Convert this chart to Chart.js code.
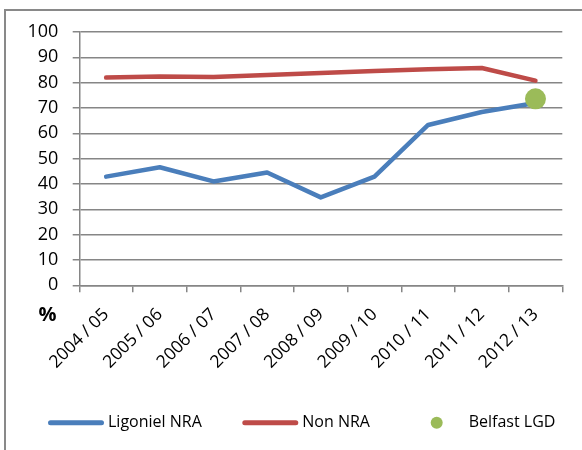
<!DOCTYPE html>
<html><head><meta charset="utf-8">
<script src="https://cdn.jsdelivr.net/npm/chart.js@4.4.1/dist/chart.umd.min.js"></script>
<style>
html,body{margin:0;padding:0;background:#fff;overflow:hidden}
#wrap{position:relative;width:582px;height:450px;overflow:hidden}
#frame{position:absolute;left:4px;top:9px;width:700px;height:600px;border-left:2px solid #898989;border-top:2px solid #898989}
canvas{position:absolute;left:0;top:0}
</style></head><body>
<div id="wrap"><div id="frame"></div><canvas id="c" width="582" height="450"></canvas></div>
<script>
const categories = ['2004 / 05','2005 / 06','2006 / 07','2007 / 08','2008 / 09','2009 / 10','2010 / 11','2011 / 12','2012 / 13'];
const ligonielNRA = [42.9, 46.6, 41.0, 44.5, 34.7, 42.9, 63.3, 68.4, 72.0];
const nonNRA = [82.0, 82.4, 82.2, 83.0, 83.8, 84.6, 85.3, 85.8, 80.8];
const belfastLGD = [null, null, null, null, null, null, null, null, 73.6];
const yTicks = [0, 10, 20, 30, 40, 50, 60, 70, 80, 90, 100];
const yUnit = '%';

const FONT = 'Open Sans';
const GRID = '#868686';

const extras = {
  id: 'extras',
  afterDraw(chart) {
    const ctx = chart.ctx;
    ctx.save();
    ctx.fillStyle = '#000';
    ctx.font = 'bold 20px "' + FONT + '"';
    ctx.textAlign = 'center';
    ctx.textBaseline = 'middle';
    ctx.fillText(yUnit, 47.5, 315);
    const y = 422.7;
    const items = [
      {ds: chart.data.datasets[1], x: 48, kind: 'line'},
      {ds: chart.data.datasets[2], x: 242.3, kind: 'line'},
      {ds: chart.data.datasets[0], x: 408.7, kind: 'dot'}
    ];
    ctx.font = '16px "' + FONT + '"';
    ctx.textAlign = 'left';
    items.forEach(it => {
      if (it.kind === 'line') {
        ctx.strokeStyle = it.ds.borderColor;
        ctx.lineWidth = 5;
        ctx.lineCap = 'round';
        ctx.beginPath();
        ctx.moveTo(it.x + 2.5, y);
        ctx.lineTo(it.x + 53.5, y);
        ctx.stroke();
      } else {
        ctx.fillStyle = it.ds.backgroundColor;
        ctx.beginPath();
        ctx.arc(it.x + 28, y, 6, 0, Math.PI * 2);
        ctx.fill();
      }
      ctx.fillStyle = '#000';
      ctx.fillText(it.ds.label, it.x + 60, y);
    });
    ctx.restore();
  }
};

new Chart(document.getElementById('c'), {
  type: 'line',
  data: {
    labels: categories,
    datasets: [
      {label: 'Belfast LGD', data: belfastLGD, showLine: false, pointRadius: 10.5, pointHoverRadius: 10.5,
       backgroundColor: '#9BBB59', borderColor: '#9BBB59', pointBorderWidth: 0, order: 0},
      {label: 'Ligoniel NRA', data: ligonielNRA, borderColor: '#4A7EBB', backgroundColor: '#4A7EBB',
       borderWidth: 4.5, pointRadius: 0, tension: 0, borderCapStyle: 'round', borderJoinStyle: 'round', order: 1},
      {label: 'Non NRA', data: nonNRA, borderColor: '#BE4B48', backgroundColor: '#BE4B48',
       borderWidth: 4.5, pointRadius: 0, tension: 0, borderCapStyle: 'round', borderJoinStyle: 'round', order: 2}
    ]
  },
  options: {
    responsive: false,
    animation: false,
    devicePixelRatio: 1,
    layout: {padding: {top: 32, right: 19.7, bottom: 0, left: 0}},
    plugins: {legend: {display: false}, tooltip: {enabled: false}},
    scales: {
      x: {
        offset: true,
        grid: {offset: true, drawOnChartArea: false, drawTicks: true, tickLength: 7, color: GRID, lineWidth: 1.5},
        border: {color: GRID, width: 1.5},
        ticks: {minRotation: 45, maxRotation: 45, autoSkip: false, padding: 12, color: '#000',
                font: {family: FONT, size: 17.5}},
        afterFit: s => { s.height = 450 - 285.3; }
      },
      y: {
        min: 0, max: 100,
        afterBuildTicks: s => { s.ticks = yTicks.map(v => ({value: v})); },
        grid: {color: GRID, lineWidth: 1.5, tickLength: 6.6, drawTicks: true},
        border: {color: GRID, width: 1.5},
        ticks: {padding: 14.4, color: '#000', font: {family: FONT, size: 18}},
        afterFit: s => { s.width = 79.3; }
      }
    }
  },
  plugins: [extras]
});
</script>
</body></html>
